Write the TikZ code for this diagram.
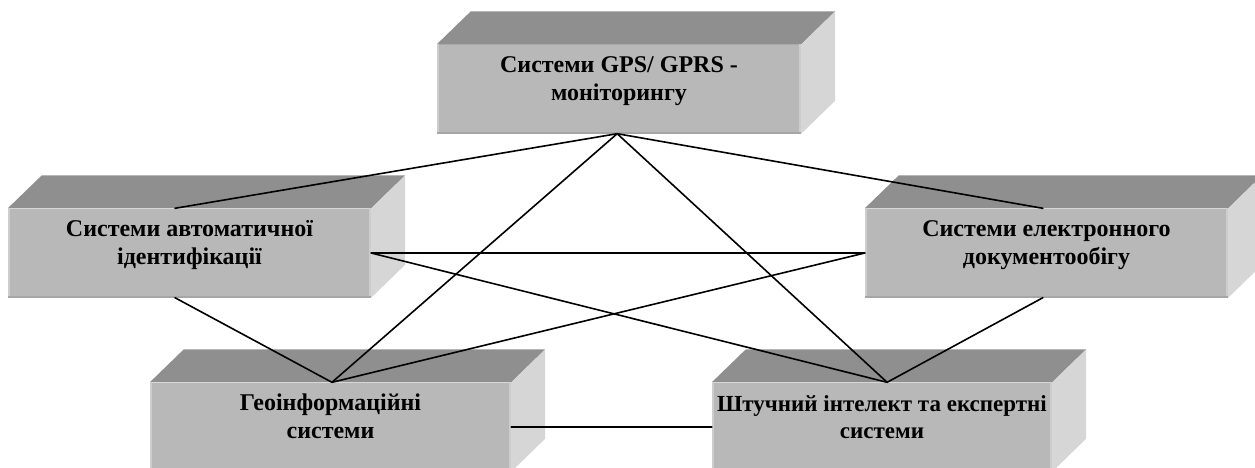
\documentclass[tikz,border=0pt]{standalone}
\usepackage{fontspec}
\setmainfont{Liberation Serif}
\usetikzlibrary{calc}
\definecolor{frontgray}{HTML}{B8B8B8}
\definecolor{topgray}{HTML}{8F8F8F}
\definecolor{sidegray}{HTML}{D6D6D6}
\definecolor{edgelight}{HTML}{CDCDCD}
\definecolor{edgedark}{HTML}{A6A6A6}
\tikzset{
  frontface/.style={rectangle, fill=frontgray, minimum height=89pt, inner sep=0pt, draw=none},
  lbl/.style={align=center, font=\bfseries\fontsize{24}{27.6}\selectfont, inner sep=0pt, anchor=north, text=black},
  link/.style={line width=1.6pt, black, line cap=round}
}
\newcommand\boxfaces[1]{%
  \fill[topgray] (#1.north west) -- ++(34,-33) -- ($(#1.north east)+(34,-33)$) -- (#1.north east) -- cycle;
  \fill[sidegray] (#1.north east) -- ++(34,-33) -- ($(#1.south east)+(34,-33)$) -- (#1.south east) -- cycle;
  \fill[edgelight] (#1.north west) rectangle ($(#1.south west)+(2.5,0)$);
  \fill[edgelight] ($(#1.north east)+(-2.5,0)$) rectangle (#1.south east);
  \fill[edgedark] ($(#1.south west)+(0,-2)$) rectangle (#1.south east);
}
\begin{document}
\begin{tikzpicture}[x=1pt,y=-1pt]
\useasboundingbox (0,0) rectangle (1255,468);
\clip (0,0) rectangle (1255,468);
% boxes
\node[frontface, minimum width=364pt] (T) at (619,89) {};
\node[frontface, minimum width=363pt] (L) at (189.5,253) {};
\node[frontface, minimum width=363pt] (R) at (1046.5,253) {};
\node[frontface, minimum width=361pt] (BL) at (330.5,427) {};
\node[frontface, minimum width=340pt] (BR) at (882,427) {};
\boxfaces{T}
\boxfaces{L}
\boxfaces{R}
\boxfaces{BL}
\boxfaces{BR}
% labels
\node[lbl] (Tt) at ($(T.north)+(0,8.7)$) {\strut Системи GPS/ GPRS -\\моніторингу};
\node[lbl] (Lt) at ($(L.north)+(0,8.7)$) {\strut Системи автоматичної\\ідентифікації};
\node[lbl] (Rt) at ($(R.north)+(0,8.7)$) {\strut Системи електронного\\документообігу};
\node[lbl] (BLt) at ($(BL.north)+(0,8.7)$) {\strut Геоінформаційні\\системи};
\node[lbl, font=\bfseries\fontsize{23}{27.6}\selectfont] (BRt) at ($(BR.north)+(0,9.3)$) {\strut Штучний інтелект та експертні\\системи};
% connection points
\coordinate (Ltop) at ($(L.north west)!0.46!(L.north east)$);
\coordinate (Lbot) at ($(L.south west)!0.46!(L.south east)$);
\coordinate (Rtop) at ($(R.north west)!0.49!(R.north east)$);
\coordinate (Rbot) at ($(R.south west)!0.49!(R.south east)$);
\coordinate (Tbot) at ($(T.south west)!0.495!(T.south east)$);
\coordinate (BLtop) at ($(BL.north west)!0.504!(BL.north east)$);
\coordinate (BRtop) at ($(BR.north west)!0.515!(BR.north east)$);
% links
\draw[link] (Tbot) -- (Ltop);
\draw[link] (Tbot) -- (Rtop);
\draw[link] (Tbot) -- (BLtop);
\draw[link] (Tbot) -- (BRtop);
\draw[link] (L.east) -- (R.west);
\draw[link] (L.east) -- (BRtop);
\draw[link] (R.west) -- (BLtop);
\draw[link] (Lbot) -- (BLtop);
\draw[link] (Rbot) -- (BRtop);
\draw[link] (BL.east) -- (BR.west);
\end{tikzpicture}
\end{document}
